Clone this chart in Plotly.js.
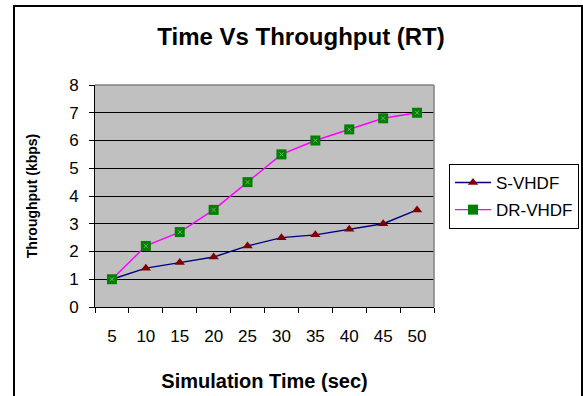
<!DOCTYPE html>
<html>
<head>
<meta charset="utf-8">
<script src="https://cdn.plot.ly/plotly-3.0.1.min.js"></script>
<style>html,body{margin:0;padding:0;background:#fff;}#chart{width:583px;height:396px;}</style>
</head>
<body>
<div id="chart"></div>
<script>
var categories = ['5','10','15','20','25','30','35','40','45','50'];
var sVhdf = [1, 1.4, 1.6, 1.8, 2.2, 2.5, 2.6, 2.8, 3.0, 3.5];
var drVhdf = [1, 2.2, 2.7, 3.5, 4.5, 5.5, 6.0, 6.4, 6.8, 7.0];
var seriesNames = ['S-VHDF', 'DR-VHDF'];
var yTicks = [0,1,2,3,4,5,6,7,8];

var FONT = 'Arial, "Liberation Sans", sans-serif';
var L = 95, R = 434, T = 85, B = 307, W = 583, H = 396;
function px(x){ return (x - L) / (R - L); }
function py(y){ return (B - y) / (B - T); }

var traces = [
  {
    x: categories, y: sVhdf, name: seriesNames[0], type: 'scatter', mode: 'lines+markers',
    line: {color: '#000080', width: 1.4},
    marker: {symbol: 'triangle-up', size: 9, color: '#800000'},
    legendgroup: 'a'
  },
  {
    x: categories, y: drVhdf, name: seriesNames[1], type: 'scatter', mode: 'lines+markers',
    line: {color: '#ff00ff', width: 1.4},
    marker: {symbol: 'square', size: 10, color: '#008000'},
    legendgroup: 'b'
  },
  {
    x: categories, y: drVhdf, type: 'scatter', mode: 'markers', showlegend: false, hoverinfo: 'skip',
    marker: {symbol: 'x-thin', size: 4, line: {color: '#70b070', width: 1}},
    legendgroup: 'b'
  }
];

var layout = {
  width: W, height: H,
  margin: {l: L, r: W - R, t: T, b: H - B, pad: 0, autoexpand: false},
  paper_bgcolor: '#ffffff',
  plot_bgcolor: '#c0c0c0',
  font: {family: FONT, color: '#000', size: 17},
  title: {text: '<b>Time Vs Throughput (RT)</b>', font: {family: FONT, size: 24, color: '#000'},
          x: 301 / W, xanchor: 'center', y: 1 - 37 / H, yanchor: 'middle'},
  showlegend: true,
  legend: {
    x: px(449), y: py(164), xanchor: 'left', yanchor: 'top',
    bordercolor: '#000', borderwidth: 1, bgcolor: '#fff',
    font: {family: FONT, size: 17, color: '#000'},
    traceorder: 'grouped', tracegroupgap: 2, itemwidth: 36
  },
  xaxis: {
    type: 'category', range: [-0.5, 9.5],
    showgrid: false, showline: true, linecolor: '#000', linewidth: 1,
    ticks: 'outside', ticklen: 5, tickcolor: '#000', tickson: 'boundaries',
    ticklabelstandoff: 14,
    tickfont: {family: FONT, size: 17, color: '#000'},
    title: {text: '<b>Simulation Time (sec)</b>', font: {family: FONT, size: 20, color: '#000'}, standoff: 28},
    fixedrange: true, zeroline: false
  },
  yaxis: {
    range: [0, 8], tickvals: yTicks, ticktext: yTicks.map(String),
    showgrid: true, gridcolor: '#000', gridwidth: 1,
    showline: true, linecolor: '#000', linewidth: 1,
    ticks: 'outside', ticklen: 5, tickcolor: '#000',
    ticklabelstandoff: 7,
    tickfont: {family: FONT, size: 17, color: '#000'},
    title: {text: '<b>Throughput (kbps)</b>', font: {family: FONT, size: 14, color: '#000'}, standoff: 28},
    fixedrange: true, zeroline: false
  },
  shapes: [
    {type: 'line', xref: 'paper', yref: 'paper', x0: 0, x1: 1, y0: 1, y1: 1,
     line: {color: '#808080', width: 1.5}},
    {type: 'line', xref: 'paper', yref: 'paper', x0: 1, x1: 1, y0: 0, y1: 1,
     line: {color: '#808080', width: 1.5}},
    {type: 'rect', xref: 'paper', yref: 'paper', x0: px(14), x1: px(582), y0: py(6), y1: py(410),
     line: {color: '#000', width: 2}}
  ]
};

Plotly.newPlot('chart', traces, layout, {displayModeBar: false, staticPlot: true});
</script>
</body>
</html>
